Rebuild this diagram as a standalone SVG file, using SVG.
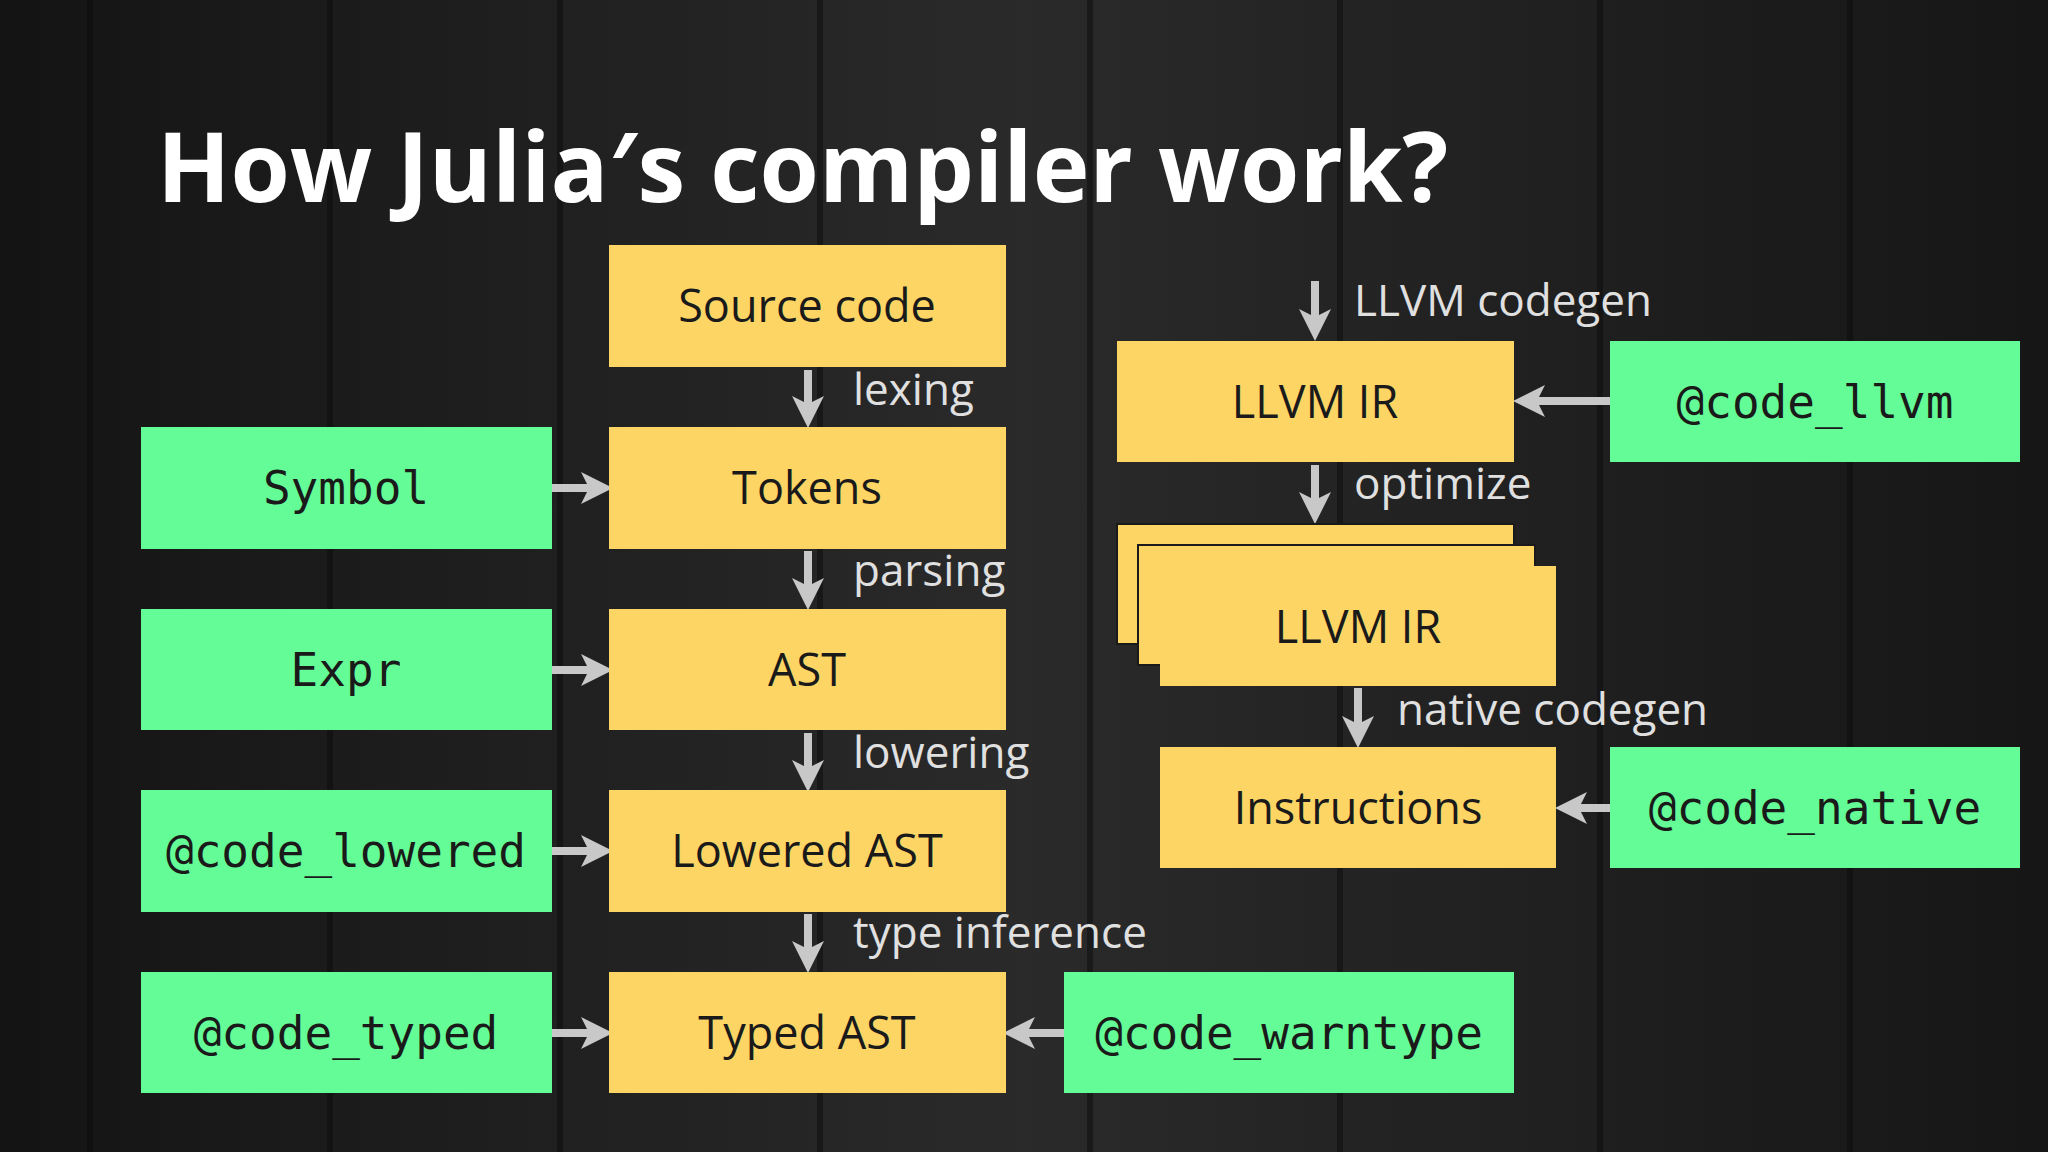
<svg xmlns="http://www.w3.org/2000/svg" width="2048" height="1152" viewBox="0 0 2048 1152">
<defs>
<style>
.y{fill:#fcd565}
.g{fill:#64fc96}
.bt{font-family:"Open Sans","Liberation Sans",sans-serif;font-size:45px;fill:#1a1a1a;text-anchor:middle}
.mt{font-family:"DejaVu Sans Mono","Liberation Mono",monospace;font-size:46px;fill:#1a1a1a;text-anchor:middle}
.lb{font-family:"Open Sans","Liberation Sans",sans-serif;font-size:44px;fill:#e0e0e0}
.ar{stroke:#c8c8c8;stroke-width:8;fill:none;marker-end:url(#ah)}
</style>
<marker id="ah" markerWidth="4" markerHeight="4" refX="2" refY="2" orient="auto" markerUnits="strokeWidth"><path d="M0,0 L4,2 L0,4 L1,2 Z" fill="#c8c8c8"/></marker>
<linearGradient id="bg" x1="0" y1="0" x2="1" y2="0">
<stop offset="0" stop-color="#141414"/><stop offset="0.5" stop-color="#2a2a2a"/><stop offset="1" stop-color="#161616"/>
</linearGradient>
</defs>
<rect width="2048" height="1152" fill="url(#bg)"/>
<g stroke="#0c0c0c" stroke-width="6" opacity="0.5">
<line x1="90" y1="0" x2="90" y2="1152"/><line x1="330" y1="0" x2="330" y2="1152"/><line x1="560" y1="0" x2="560" y2="1152"/><line x1="820" y1="0" x2="820" y2="1152"/><line x1="1090" y1="0" x2="1090" y2="1152"/><line x1="1340" y1="0" x2="1340" y2="1152"/><line x1="1600" y1="0" x2="1600" y2="1152"/><line x1="1850" y1="0" x2="1850" y2="1152"/>
</g>
<text x="157" y="202" font-family="'Open Sans','Liberation Sans',sans-serif" font-weight="bold" font-size="96" fill="#ffffff">How Julia′s compiler work?</text>
<g id="connectors">
<line class="ar" x1="808" y1="370" x2="808" y2="412"/>
<line class="ar" x1="808" y1="551" x2="808" y2="594"/>
<line class="ar" x1="808" y1="733" x2="808" y2="776"/>
<line class="ar" x1="808" y1="914" x2="808" y2="957"/>
<line class="ar" x1="1315" y1="281" x2="1315" y2="325"/>
<line class="ar" x1="1315" y1="465" x2="1315" y2="508"/>
<line class="ar" x1="1358" y1="688" x2="1358" y2="732"/>
<line class="ar" x1="552" y1="488" x2="597" y2="488"/>
<line class="ar" x1="552" y1="670" x2="597" y2="670"/>
<line class="ar" x1="552" y1="851" x2="597" y2="851"/>
<line class="ar" x1="552" y1="1033" x2="597" y2="1033"/>
<line class="ar" x1="1064" y1="1033" x2="1019" y2="1033"/>
<line class="ar" x1="1610" y1="401" x2="1529" y2="401"/>
<line class="ar" x1="1610" y1="808" x2="1571" y2="808"/>
<text class="lb" x="853" y="405">lexing</text>
<text class="lb" x="853" y="586">parsing</text>
<text class="lb" x="853" y="768">lowering</text>
<text class="lb" x="853" y="948">type inference</text>
<text class="lb" x="1354" y="316">LLVM codegen</text>
<text class="lb" x="1354" y="499">optimize</text>
<text class="lb" x="1397" y="725">native codegen</text>
</g>
<g id="source"><rect class="y" x="609" y="245" width="397" height="122"/><text class="bt" x="807" y="322">Source code</text></g>
<g id="tokens"><rect class="y" x="609" y="427" width="397" height="122"/><text class="bt" x="807" y="504">Tokens</text></g>
<g id="ast"><rect class="y" x="609" y="609" width="397" height="121"/><text class="bt" x="807" y="686">AST</text></g>
<g id="lowered"><rect class="y" x="609" y="790" width="397" height="122"/><text class="bt" x="807" y="867">Lowered AST</text></g>
<g id="typed"><rect class="y" x="609" y="972" width="397" height="121"/><text class="bt" x="807" y="1049">Typed AST</text></g>
<g id="symbol"><rect class="g" x="141" y="427" width="411" height="122"/><text class="mt" x="346" y="504">Symbol</text></g>
<g id="expr"><rect class="g" x="141" y="609" width="411" height="121"/><text class="mt" x="346" y="686">Expr</text></g>
<g id="code_lowered"><rect class="g" x="141" y="790" width="411" height="122"/><text class="mt" x="346" y="867">@code_lowered</text></g>
<g id="code_typed"><rect class="g" x="141" y="972" width="411" height="121"/><text class="mt" x="346" y="1049">@code_typed</text></g>
<g id="code_warntype"><rect class="g" x="1064" y="972" width="450" height="121"/><text class="mt" x="1289" y="1049">@code_warntype</text></g>
<g id="llvmir"><rect class="y" x="1117" y="341" width="397" height="121"/><text class="bt" x="1315" y="418">LLVM IR</text></g>
<g id="code_llvm"><rect class="g" x="1610" y="341" width="410" height="121"/><text class="mt" x="1815" y="418">@code_llvm</text></g>
<g id="llvmir_opt">
<rect class="y" x="1117" y="524" width="397" height="120" stroke="#1a1a1a" stroke-width="2"/>
<rect class="y" x="1138" y="545" width="397" height="120" stroke="#1a1a1a" stroke-width="2"/>
<rect class="y" x="1160" y="566" width="396" height="120"/>
<text class="bt" x="1358" y="643">LLVM IR</text></g>
<g id="instructions"><rect class="y" x="1160" y="747" width="396" height="121"/><text class="bt" x="1358" y="824">Instructions</text></g>
<g id="code_native"><rect class="g" x="1610" y="747" width="410" height="121"/><text class="mt" x="1815" y="824">@code_native</text></g>
</svg>
